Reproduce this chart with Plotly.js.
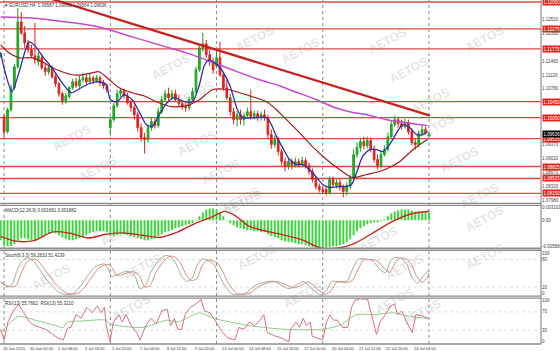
<!DOCTYPE html>
<html><head><meta charset="utf-8">
<script src="https://cdn.plot.ly/plotly-3.0.1.min.js"></script>
<style>html,body{margin:0;padding:0;background:#fff;}#chart{width:560px;height:351px;}</style>
</head><body><div id="chart"></div>
<script>
// ---- price bars (EURUSD H4) ----
const open = [
1.1160,1.10075,1.0970,1.1025,1.1080,1.11325,1.1245,1.12175,1.11925,1.1175,
1.1160,1.1145,1.1155,1.1130,1.1120,1.1130,1.11075,1.1090,1.1065,1.10475,
1.10575,1.1080,1.1095,1.1085,1.1100,1.1105,1.1095,1.1105,1.10975,1.1105,
1.10925,1.1085,1.0980,1.1000,1.1035,1.1065,1.10725,1.1060,1.10425,1.1030,
1.10125,1.0980,1.0955,1.0950,1.0980,1.0995,1.0985,1.1020,1.1050,1.1065,
1.1055,1.1065,1.1050,1.1040,1.10325,1.1030,1.1050,1.1070,1.1125,1.1180,
1.1190,1.11625,1.1145,1.1135,1.1155,1.11125,1.1080,1.1055,1.1020,1.1000,
1.10125,1.1000,1.1010,1.1020,1.10075,1.1015,1.1005,1.10125,1.1005,1.09625,
1.09375,1.0950,1.0920,1.0895,1.08825,1.0895,1.0885,1.0895,1.08875,1.08975,
1.0885,1.0870,1.0850,1.08325,1.0825,1.0825,1.08175,1.0850,1.0835,1.08425,
1.0830,1.0820,1.0835,1.0855,1.09125,1.0930,1.0945,1.0935,1.09475,1.0925,
1.0900,1.0885,1.09125,1.0925,1.09575,1.09875,1.1000,1.0990,1.09825,1.09925,
1.0970,1.09425,1.09375,1.0965,1.0975,1.09587];
const high = [
1.1170,1.10125,1.1030,1.10875,1.1140,1.1280,1.1270,1.1235,1.1200,1.11875,
1.12425,1.1170,1.11625,1.11425,1.11375,1.1135,1.1115,1.1095,1.1070,1.10675,
1.1085,1.11025,1.1105,1.1110,1.11175,1.11125,1.1115,1.1110,1.11125,1.1110,
1.1100,1.1090,1.10075,1.10425,1.1075,1.1080,1.10775,1.10675,1.1050,1.10375,
1.1020,1.0990,1.09675,1.09875,1.1005,1.10025,1.1030,1.1060,1.1075,1.1080,
1.1075,1.1075,1.10625,1.1050,1.10425,1.10575,1.1080,1.11325,1.1190,1.12175,
1.1200,1.1175,1.1155,1.1175,1.1195,1.1120,1.1100,1.1065,1.1030,1.1020,
1.1025,1.10175,1.1030,1.1075,1.10225,1.10225,1.1020,1.1025,1.10125,1.0975,
1.0960,1.09575,1.09275,1.0905,1.0905,1.09025,1.0905,1.09025,1.09075,1.0905,
1.08925,1.08775,1.08575,1.0840,1.08325,1.0835,1.08575,1.08575,1.0850,1.0850,
1.08375,1.08425,1.08625,1.0925,1.09425,1.0955,1.09575,1.09575,1.0955,1.0935,
1.09125,1.0920,1.0935,1.09675,1.09975,1.1010,1.10075,1.1000,1.10025,1.1000,
1.09775,1.09525,1.09725,1.0985,1.09825,1.09669];
const low = [
1.1155,1.0955,1.0965,1.1020,1.1075,1.11275,1.12125,1.1180,1.11675,1.1155,
1.1140,1.1135,1.1125,1.1110,1.11125,1.11025,1.10825,1.10575,1.10375,1.1040,
1.10525,1.1075,1.1080,1.1080,1.10925,1.10875,1.1090,1.1090,1.10925,1.1085,
1.10775,1.10675,1.0960,1.0995,1.1030,1.10575,1.10525,1.10375,1.1020,1.1000,
1.0970,1.0945,1.0915,1.09425,1.09725,1.09775,1.0980,1.1015,1.1045,1.10475,
1.1050,1.1045,1.10325,1.1025,1.1020,1.10225,1.1045,1.1065,1.1120,1.1170,
1.1155,1.1135,1.1115,1.1130,1.11075,1.10725,1.1050,1.1010,1.09875,1.09825,
1.09875,1.0985,1.1005,1.1000,1.1000,1.09975,1.09975,1.09975,1.0950,1.09275,
1.0930,1.0910,1.0885,1.0870,1.0875,1.0875,1.0880,1.0880,1.0880,1.08775,
1.08625,1.08425,1.0825,1.08175,1.08125,1.0810,1.08125,1.0830,1.08275,1.08225,
1.0805,1.0810,1.0825,1.0850,1.0905,1.0920,1.0925,1.09275,1.09175,1.08925,
1.0875,1.08775,1.09075,1.0920,1.09525,1.09825,1.0980,1.0975,1.09775,1.09625,
1.0935,1.0925,1.0930,1.0960,1.09625,1.09564];
const close = [
1.1165,1.0970,1.1025,1.1080,1.11325,1.1245,1.12175,1.11925,1.1175,1.1160,
1.1150,1.1160,1.1130,1.1120,1.1130,1.11075,1.1090,1.1065,1.10475,1.1060,
1.1080,1.1095,1.1085,1.1100,1.1105,1.1095,1.1105,1.10975,1.1105,1.10925,
1.1085,1.1075,1.1000,1.1035,1.1065,1.10725,1.1060,1.10425,1.1030,1.10125,
1.0980,1.0955,1.0950,1.0980,1.0995,1.0985,1.1020,1.1050,1.1065,1.1055,
1.1065,1.1050,1.1040,1.10325,1.1030,1.1050,1.1070,1.1125,1.1180,1.1190,
1.11625,1.1145,1.1125,1.1155,1.11125,1.1080,1.1055,1.1020,1.1000,1.10125,
1.1000,1.1010,1.1020,1.10075,1.1015,1.1005,1.10125,1.1005,1.09625,1.09375,
1.0950,1.0920,1.0895,1.08825,1.0895,1.0885,1.0895,1.08875,1.08975,1.0885,
1.0870,1.0850,1.08325,1.0825,1.0820,1.08175,1.0850,1.08375,1.08425,1.0830,
1.0820,1.0835,1.0855,1.09125,1.0930,1.0945,1.0935,1.09475,1.0925,1.0900,
1.0885,1.09125,1.0925,1.09575,1.09875,1.1000,1.0990,1.09825,1.09925,1.0970,
1.09425,1.09375,1.0965,1.0975,1.09675,1.09636];
const bars = close.map((_, i) => i);

// ---- moving averages ----
const fastMaX = [0,1.5,3.3,5.4,8.3,10.3,12.1,15,17.9,20.6,23.5,25.8,28.7,30.8,32,34,36,38.4,40.4,42.5,44.2,46.3,48.3,50.7,53.6,56,58,59.4,60.9,63.8,66.8,69.1,70.6,74.1,77.6,79,80.5,82.3,84.3,86.3,88.1,90.1,92.2,94,96,98.9,101,102.4,103.9,105.6,107.7,109.7,111.5,113.5,115.6,117.3,119.4,121.4,123.2,124.6];
const fastMaY = [1.11675,1.11125,1.10700,1.11200,1.11950,1.11825,1.11600,1.11300,1.10925,1.10675,1.10800,1.10900,1.10950,1.10875,1.10500,1.10450,1.10625,1.10500,1.10200,1.09875,1.09825,1.10125,1.10400,1.10550,1.10450,1.10450,1.10875,1.11350,1.11500,1.11325,1.10875,1.10250,1.10050,1.10050,1.10050,1.09875,1.09575,1.09300,1.09000,1.08875,1.08875,1.08750,1.08550,1.08375,1.08300,1.08325,1.08325,1.08375,1.08675,1.09075,1.09250,1.09250,1.09200,1.09375,1.09675,1.09875,1.09800,1.09625,1.09625,1.09700];
const midMaX = [0,2.4,5.4,9.2,12.1,15,17.9,20.8,23.8,26.7,28.7,31.7,34.6,38.4,42.5,45.4,50.1,54.2,58,61.8,66.8,69.7,73.5,77.6,80.5,83.4,87.2,91,95.1,98.9,102.7,106.8,110.6,113.5,116.5,119.4,122.3,124.6];
const midMaY = [1.11875,1.11675,1.11550,1.11550,1.11450,1.11300,1.11200,1.11125,1.11125,1.11175,1.11200,1.11000,1.10800,1.10675,1.10575,1.10450,1.10325,1.10350,1.10500,1.10750,1.10750,1.10675,1.10575,1.10450,1.10250,1.10000,1.09675,1.09325,1.09000,1.08750,1.08550,1.08625,1.08700,1.08800,1.08950,1.09175,1.09375,1.09500];
const slowMaX = [0,9.2,19.1,28.7,38.4,48.3,54.2,60,67.6,75.5,81.4,84.3,92.2,96.9,101.8,106.8,112.7,116.5,120.3,124.6];
const slowMaY = [1.12575,1.12550,1.12450,1.12325,1.12075,1.11825,1.11675,1.11500,1.11250,1.11000,1.10850,1.10750,1.10500,1.10325,1.10200,1.10125,1.10000,1.09950,1.09900,1.09850];
const trendX = [0, 125.3];
const trendY = [1.1342, 1.1010];
const levelPrices = [1.12950,1.12275,1.11775,1.10450,1.10050,1.09525,1.08825,1.08525,1.08150];
const priceTicks = [1.1251,1.1216,1.1146,1.1112,1.1078,1.0937,1.0902,1.0867,1.0832,1.0798];
const weekStarts = [1, 32, 63, 94, 125];
const xLabelBars = [0,8,16,24,32,40,48,56,64,72,80,88,96,104,112,120];
const xLabels = ["26 Jun 2015","30 Jun 00:00","1 Jul 08:00","2 Jul 16:00","5 Jul 20:00","7 Jul 04:00","8 Jul 12:00","9 Jul 20:00","13 Jul 00:00","14 Jul 08:00","15 Jul 16:00","17 Jul 00:00","20 Jul 04:00","21 Jul 12:00","22 Jul 20:00","24 Jul 04:00"];

// ---- MACD ----
const macdHist = [
-0.00423,-0.00527,-0.00550,-0.00540,-0.00507,-0.00423,-0.00381,-0.00381,-0.00402,-0.00423,
-0.00423,-0.00402,-0.00360,-0.00318,-0.00276,-0.00255,-0.00276,-0.00318,-0.00360,-0.00402,
-0.00423,-0.00423,-0.00402,-0.00381,-0.00360,-0.00318,-0.00276,-0.00255,-0.00234,-0.00234,
-0.00234,-0.00255,-0.00318,-0.00339,-0.00318,-0.00297,-0.00297,-0.00318,-0.00339,-0.00360,
-0.00381,-0.00402,-0.00423,-0.00423,-0.00402,-0.00381,-0.00339,-0.00297,-0.00255,-0.00234,
-0.00213,-0.00172,-0.00151,-0.00130,-0.00109,-0.00088,-0.00067,-0.00010,0.00080,0.00163,
0.00226,0.00247,0.00247,0.00226,0.00163,0.00080,-0.00010,-0.00067,-0.00109,-0.00151,
-0.00172,-0.00193,-0.00213,-0.00213,-0.00234,-0.00234,-0.00255,-0.00255,-0.00297,-0.00339,
-0.00360,-0.00381,-0.00423,-0.00444,-0.00465,-0.00465,-0.00486,-0.00507,-0.00507,-0.00527,
-0.00548,-0.00569,-0.00580,-0.00580,-0.00580,-0.00580,-0.00569,-0.00548,-0.00548,-0.00527,
-0.00507,-0.00465,-0.00402,-0.00318,-0.00234,-0.00172,-0.00130,-0.00088,-0.00067,-0.00046,
-0.00046,-0.00025,0.00017,0.00080,0.00142,0.00184,0.00205,0.00226,0.00226,0.00226,
0.00205,0.00184,0.00184,0.00184,0.00178,0.00168];
const macdSigX = [0,4.8,10,15.3,20.3,25.5,30.8,36,41.3,46.6,51.8,56.8,62.1,65.3,68.5,72.6,83.1,88.4,93.4,99.8,103.9,109.2,114.4,119.7,125];
const macdSigY = [-0.00339,-0.00444,-0.00423,-0.00245,-0.00276,-0.00373,-0.00297,-0.00268,-0.00318,-0.00360,-0.00245,-0.00067,0.00080,0.00184,0.00092,-0.00130,-0.00318,-0.00423,-0.00582,-0.00569,-0.00465,-0.00245,-0.00025,0.00130,0.00188];

// ---- Stochastic ----
const stochKX = [0,1.6,3.2,4.7,6.3,7.9,9.4,11,13.1,15.2,17.3,19.3,21.4,23.5,25.6,27.2,28.7,30.3,31.4,32.4,34,36.1,37.6,39.2,40.7,42.3,43.9,46,48.1,49.6,51.2,52.8,54.3,55.9,57.5,59,60.6,62.2,63.7,65.3,67.4,69.5,71.6,73.6,75.7,77.8,79.9,82,84.1,86.2,88.3,89.8,91.4,93.5,95.1,96.6,98.2,99.8,101.3,102.9,104.5,106.5,108.6,110.7,112.3,113.8,115.4,117,118.5,120.1,121.7,123.2,124.8];
const stochKY = [32,20,24,54,77,83,77,62,39,20,7,3,7,24,47,62,68,70,58,43,47,53,54,43,16,24,54,77,89,86,70,43,32,39,70,81,77,70,47,24,5,3,7,20,28,32,32,24,16,24,32,24,13,2,13,32,32,30,35,62,81,81,77,58,51,77,85,81,70,39,28,43,56];
const stochDX = [0,2.9,4.5,6.0,7.6,9.2,10.7,12.3,14.4,16.5,18.6,20.6,22.7,24.8,26.9,28.5,30.0,31.6,32.7,33.7,35.3,37.4,38.9,40.5,42.0,43.6,45.2,47.3,49.4,50.9,52.5,54.1,55.6,57.2,58.8,60.3,61.9,63.5,65.0,66.6,68.7,70.8,72.9,74.9,77.0,79.1,81.2,83.3,85.4,87.5,89.6,91.1,92.7,94.8,96.4,97.9,99.5,101.1,102.6,104.2,105.8,107.8,109.9,112.0,113.6,115.1,116.7,118.3,119.8,121.4,123.0,124.5,125];
const stochDY = [30,20,23,50,74,81,78,64,42,23,9,4,7,22,45,60,67,69,60,46,46,52,53,45,20,23,50,74,87,85,72,47,34,38,66,79,77,71,50,27,7,4,7,19,27,31,31,25,18,23,31,25,14,4,12,30,32,30,34,57,78,80,77,60,52,72,83,81,71,43,30,40,51];

// ---- RSI ----
const rsiX = [0,1,2.1,3.7,5.2,6.8,8.4,10,11.5,13.1,15.2,16.7,18.3,19.5,20.5,22,23.5,25.1,26.7,28.2,29.3,30.3,30.8,31.9,32.9,34.5,35.5,36.6,38.1,39.7,40.7,42.3,43.9,45.4,47,48.6,49.6,50.7,51.7,52.8,53.8,55.4,56.9,58.5,59.5,61.1,62.2,63.2,64.8,66.3,68.4,69.5,71,72.6,74.2,75.7,76.8,77.8,79.9,82,84.1,84.6,86.2,87.2,88.3,89.3,90.4,90.9,92.4,94,95.1,96.1,97.1,98.2,99.8,101.3,102.4,103.4,105,107.1,108.1,109.7,110.7,112.3,113.8,114.9,115.9,117,118.5,120.1,121.2,122.7,124.8];
const rsiY = [32,8,48,72,87,68,48,40,36,32,21,13,9,35,36,64,56,80,68,83,68,80,40,5,48,64,48,64,40,25,9,40,56,44,72,76,40,56,32,32,64,80,87,97,72,68,56,44,25,13,9,36,32,48,40,52,64,25,18,13,5,32,48,36,56,40,48,17,13,9,48,64,52,52,36,36,80,95,99,97,68,21,48,64,83,87,64,72,48,25,64,62,56];
const rsiMaX = [0,5.2,10,15.2,18.3,19.5,23.5,30.8,31.9,41.3,48.6,51.7,58,62.2,72.6,83,93.5,98.7,104,109.2,114.4,119.6,124.8];
const rsiMaY = [25,60,52,42,36,48,50,52,44,36,52,48,68,56,40,32,32,40,64,64,68,60,55];

// ---- layout constants ----
const F = 'Liberation Sans, Arial, sans-serif';
const FN = 'Liberation Sans Narrow, Liberation Sans, Arial, sans-serif';
const dMain = [0.4087, 1], dMacd = [0.2783, 0.4029], dSto = [0.1391, 0.2725], dRsi = [0, 0.1333];
const watermarks = [[0.27,0.86],[0.315,0.78],[0.47,0.94],[0.555,0.905],[0.76,0.935],[0.80,0.85],[0.94,0.94],[0.84,0.76],
 [0.087,0.60],[0.135,0.51],[0.364,0.585],[0.407,0.50],[0.444,0.42],[0.85,0.63],[0.893,0.535],[0.93,0.43],
 [0.177,0.27],[0.218,0.17],[0.449,0.41],[0.745,0.25],[0.793,0.17],[0.94,0.20],[0.05,0.14],[0.198,0.05],
 [0.56,0.09],[0.773,0.07],[0.824,0.04],[0.475,0.20],[0.94,0.31]];

const traces = [
 {type:'candlestick', x:bars, open:open, high:high, low:low, close:close, xaxis:'x', yaxis:'y',
  increasing:{line:{color:'#1f9f1f',width:1}, fillcolor:'#27b527'},
  decreasing:{line:{color:'#e0231d',width:1}, fillcolor:'#e0231d'},
  whiskerwidth:0, hoverinfo:'skip'},
 {type:'scatter', mode:'lines', x:slowMaX, y:slowMaY, yaxis:'y', line:{color:'#cc46cc',width:1.5,shape:'spline',smoothing:0.8}, hoverinfo:'skip'},
 {type:'scatter', mode:'lines', x:midMaX, y:midMaY, yaxis:'y', line:{color:'#a8161a',width:1.2,shape:'spline',smoothing:0.8}, hoverinfo:'skip'},
 {type:'scatter', mode:'lines', x:fastMaX, y:fastMaY, yaxis:'y', line:{color:'#2b2fae',width:1.3,shape:'spline',smoothing:0.7}, hoverinfo:'skip'},
 {type:'scatter', mode:'lines', x:trendX, y:trendY, yaxis:'y', line:{color:'#c81f1f',width:2.2}, hoverinfo:'skip'},
 {type:'bar', x:bars, y:macdHist, yaxis:'y2', marker:{color:'#3ad83a', line:{width:0}}, hoverinfo:'skip'},
 {type:'scatter', mode:'lines', x:macdSigX, y:macdSigY, yaxis:'y2', line:{color:'#c8281e',width:1.4,shape:'spline',smoothing:0.9}, hoverinfo:'skip'},
 {type:'scatter', mode:'lines', x:stochKX, y:stochKY, yaxis:'y3', line:{color:'#9aae9a',width:1,shape:'spline',smoothing:0.6}, hoverinfo:'skip'},
 {type:'scatter', mode:'lines', x:stochDX, y:stochDY, yaxis:'y3', line:{color:'#d58a7e',width:1,shape:'spline',smoothing:0.6}, hoverinfo:'skip'},
 {type:'scatter', mode:'lines', x:rsiMaX, y:rsiMaY, yaxis:'y4', line:{color:'#8ccc8c',width:1,shape:'spline',smoothing:0.7}, hoverinfo:'skip'},
 {type:'scatter', mode:'lines', x:rsiX, y:rsiY, yaxis:'y4', line:{color:'#d9707e',width:1}, hoverinfo:'skip'}
];

const shapes = [];
levelPrices.forEach(p => shapes.push({type:'line', xref:'paper', x0:0, x1:1, yref:'y', y0:p, y1:p, line:{color:'#d94a44',width:1.3}, layer:'below'}));
weekStarts.forEach(s => shapes.push({type:'line', xref:'x', x0:s, x1:s, yref:'paper', y0:0, y1:1, line:{color:'#8a8a8a',width:1,dash:'dot'}, layer:'below'}));
[[ 'y3', 80 ], ['y3', 20], ['y4', 70], ['y4', 30]].forEach(l => shapes.push({type:'line', xref:'paper', x0:0, x1:1, yref:l[0], y0:l[1], y1:l[1], line:{color:'#d4d4d4',width:0.8,dash:'dot'}, layer:'below'}));
[dMain[0], dMacd[1], dMacd[0], dSto[1], dSto[0], dRsi[1], dRsi[0]].forEach(v => shapes.push({type:'line', xref:'paper', x0:0, x1:1, yref:'paper', y0:v, y1:v, line:{color:'#8c8c8c',width:1.3}}));
shapes.push({type:'line', xref:'paper', x0:1, x1:1, yref:'paper', y0:0, y1:1, line:{color:'#8c8c8c',width:1.2}});

const annotations = [];
watermarks.forEach(w => annotations.push({xref:'paper', yref:'paper', x:w[0], y:w[1], text:'<b>AETOS</b>', showarrow:false, textangle:-28, font:{family:F, size:12, color:'rgba(150,150,150,0.26)'}}));
levelPrices.forEach(p => annotations.push({xref:'paper', x:1, xanchor:'left', xshift:1, yref:'y', y:p, yanchor:'middle', text:p.toFixed(5), showarrow:false, bgcolor:'#e0261e', borderpad:0.5, font:{family:FN, size:4.5, color:'#ffffff'}}));
const last = close[close.length-1];
annotations.push({xref:'paper', x:1, xanchor:'left', xshift:1, yref:'y', y:last, yanchor:'middle', text:last.toFixed(5), showarrow:false, bgcolor:'#000000', borderpad:0.5, font:{family:FN, size:4.5, color:'#ffffff'}});
const headers = [
 [dMain[1], '\u25BE EURUSD,H4  ' + [open[125],high[125],low[125],close[125]].map(v=>v.toFixed(5)).join(' ')],
 [dMacd[1], 'MACD(12,26,9) 0.001681 0.001882'],
 [dSto[1], 'Stoch(8,3,3) 56.2810 51.4239'],
 [dRsi[1], 'RSI(13) 55.7662  RSI(13) 55.3210']];
headers.forEach(h => annotations.push({xref:'paper', yref:'paper', x:0.006, y:h[0], xanchor:'left', yanchor:'top', yshift:-1, text:h[1], showarrow:false, font:{family:F, size:4.5, color:'#333'}}));
xLabelBars.forEach((b, i) => annotations.push({xref:'x', yref:'paper', x:b, y:0, xanchor:'left', yanchor:'top', yshift:0, text:xLabels[i], showarrow:false, font:{family:FN, size:4, color:'#333'}}));

const axY = (domain, range, vals, text) => ({domain:domain, range:range, side:'right', anchor:'x', tickvals:vals, ticktext:text,
  tickfont:{family:FN, size:4.5, color:'#444'}, ticks:'', showgrid:false, zeroline:false, showline:false, fixedrange:true});

const layout = {
 width:560, height:351, margin:{l:0, r:19, t:0, b:7},
 paper_bgcolor:'#ffffff', plot_bgcolor:'#ffffff', showlegend:false, bargap:0.42,
 xaxis:{range:[-0.2,157.7], showticklabels:false, showgrid:false, zeroline:false, showline:false, ticks:'', rangeslider:{visible:false}, anchor:'y4', fixedrange:true},
 yaxis: axY(dMain, [1.0790, 1.1300], priceTicks, priceTicks.map(v => v.toFixed(5))),
 yaxis2: axY(dMacd, [-0.0059, 0.0031], [0.00268, 0, -0.00548], ['0.003101', '0.00', '-0.00588']),
 yaxis3: axY(dSto, [0, 100], [94, 80, 20, 5], ['100', '80', '20', '0']),
 yaxis4: axY(dRsi, [0, 100], [96, 70, 30, 6], ['100', '70', '30', '0']),
 shapes:shapes, annotations:annotations
};
Plotly.newPlot('chart', traces, layout, {staticPlot:true, displayModeBar:false});
</script></body></html>
